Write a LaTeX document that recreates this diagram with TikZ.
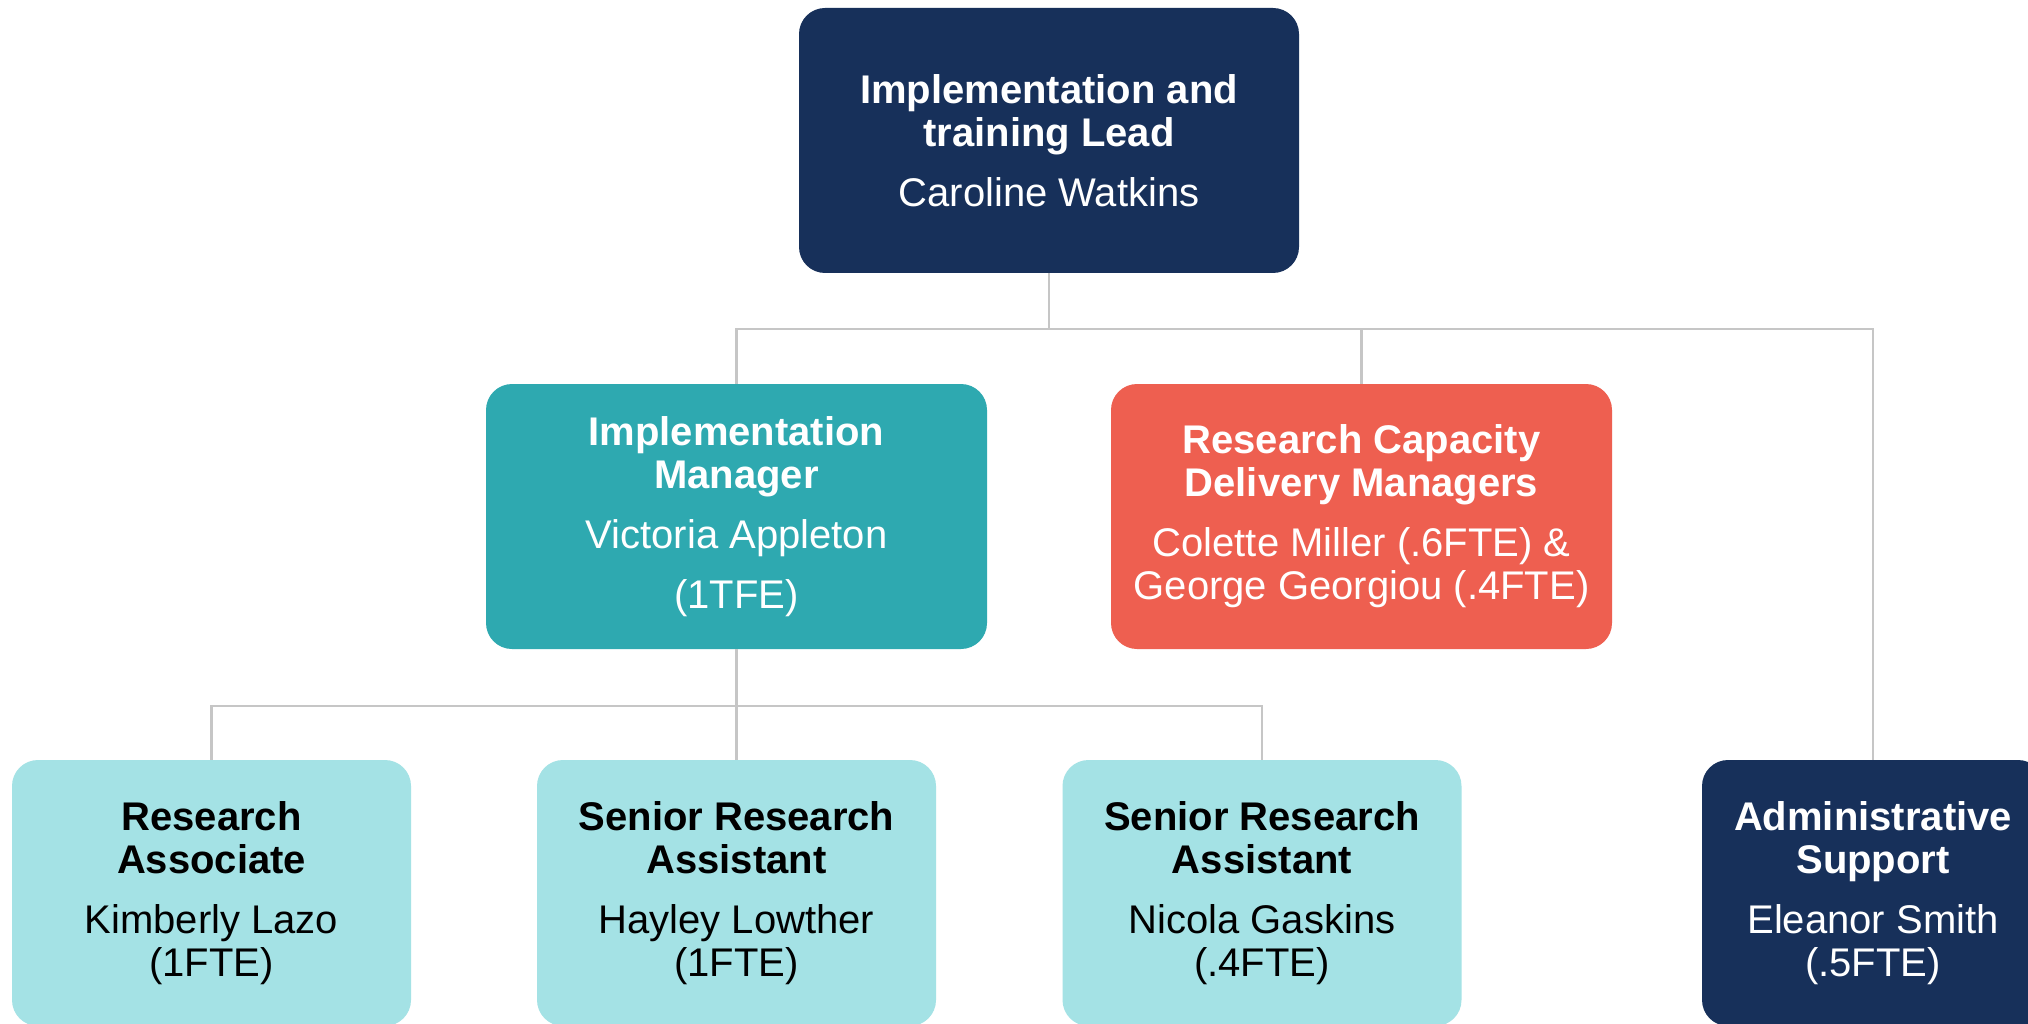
\documentclass[tikz,border=0pt]{standalone}
\usepackage{fontspec}
\setmainfont{Liberation Sans}
\definecolor{navy}{HTML}{17305A}
\definecolor{teal}{HTML}{2EA9B0}
\definecolor{coral}{HTML}{EE5F50}
\definecolor{lightcyan}{HTML}{A4E2E5}
\definecolor{linegray}{HTML}{C6C6C6}
\tikzset{
  box/.style={rectangle, rounded corners=26pt, inner sep=0pt, align=center,
    minimum height=265pt, font=\fontsize{40}{43}\selectfont},
  wbox/.style={box, text=white},
  kbox/.style={box, text=black},
  conn/.style={draw=linegray, line width=2.5pt}
}
\begin{document}
\begin{tikzpicture}[x=1pt,y=-1pt]
\useasboundingbox (0,0) rectangle (2028,1024);
\clip (0,0) rectangle (2028,1024);
\fill[white] (0,0) rectangle (2028,1024);
\coordinate (bus1) at (0,329);
\coordinate (bus2) at (0,706);
\node[wbox, fill=navy, minimum width=500pt] (top) at (1049,140.5)
  {\textbf{Implementation and}\\\textbf{training Lead}\\[17pt]Caroline Watkins};
\node[wbox, fill=teal, minimum width=501pt] (im) at (736.5,516.5)
  {\textbf{Implementation}\\\textbf{Manager}\\[17pt]Victoria Appleton\\[17pt](1TFE)};
\node[wbox, fill=coral, minimum width=501pt] (rc) at (1361.5,516.5)
  {\textbf{Research Capacity}\\\textbf{Delivery Managers}\\[17pt]Colette Miller (.6FTE) \&\\George Georgiou (.4FTE)};
\node[kbox, fill=lightcyan, minimum width=399pt, minimum height=266pt] (ra) at (211.5,893)
  {\textbf{Research}\\\textbf{Associate}\\[17pt]Kimberly Lazo\\(1FTE)};
\node[kbox, fill=lightcyan, minimum width=399pt, minimum height=266pt] (sra1) at (736.5,893)
  {\textbf{Senior Research}\\\textbf{Assistant}\\[17pt]Hayley Lowther\\(1FTE)};
\node[kbox, fill=lightcyan, minimum width=399pt, minimum height=266pt] (sra2) at (1262,893)
  {\textbf{Senior Research}\\\textbf{Assistant}\\[17pt]Nicola Gaskins\\(.4FTE)};
\node[wbox, fill=navy, minimum width=342pt, minimum height=266pt] (adm) at (1873,893)
  {\textbf{Administrative}\\\textbf{Support}\\[17pt]Eleanor Smith\\(.5FTE)};
\draw[conn] (top.south) -- (top.south |- bus1);
\draw[conn] (im.north) -- (im.north |- bus1) -- (adm.north |- bus1) -- (adm.north);
\draw[conn] (rc.north) -- (rc.north |- bus1);
\draw[conn] (im.south) -- (im.south |- bus2);
\draw[conn] (ra.north) -- (ra.north |- bus2) -- (sra2.north |- bus2) -- (sra2.north);
\draw[conn] (sra1.north) -- (sra1.north |- bus2);
\end{tikzpicture}
\end{document}
